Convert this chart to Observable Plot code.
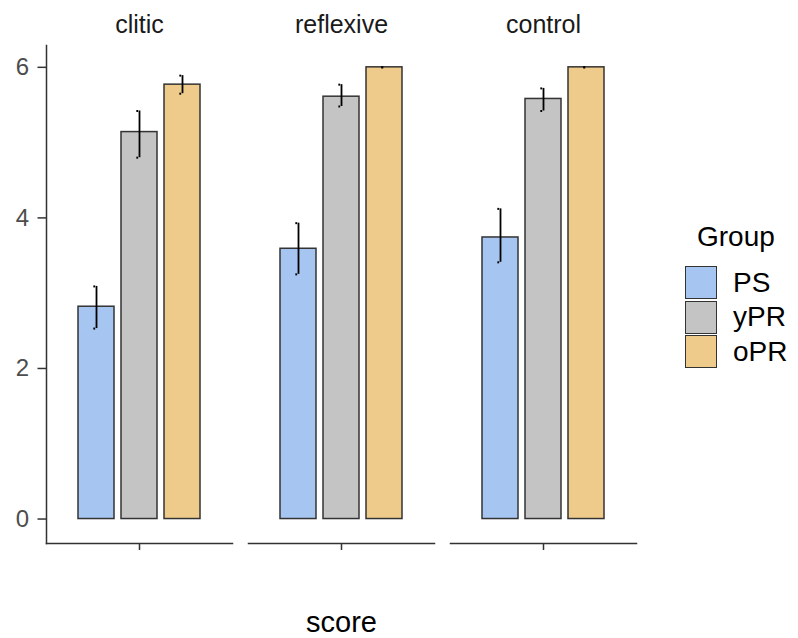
<!DOCTYPE html>
<html>
<head>
<meta charset="utf-8">
<script src="https://cdn.jsdelivr.net/npm/d3@7"></script>
<script src="https://cdn.jsdelivr.net/npm/@observablehq/plot@0.6"></script>
<style>
  html, body { margin: 0; padding: 0; background: #fff; }
  #wrap { position: relative; width: 798px; height: 638px; font-family: "Liberation Sans", Arial, sans-serif; }
  #legend { position: absolute; left: 0; top: 0; }
  .lg-title { position: absolute; left: 697px; top: 223px; font-size: 28px; line-height: 1; color: #000; white-space: nowrap; }
  .lg-key { position: absolute; left: 685px; width: 30px; height: 31px; border: 1.5px solid #333; }
  .lg-lab { position: absolute; left: 733px; font-size: 28px; line-height: 1; color: #000; white-space: nowrap; }
</style>
</head>
<body>
<div id="wrap">
  <div id="chart"></div>
  <div id="legend"></div>
</div>
<script>
// ---- data ----
const facets = ["clitic", "reflexive", "control"];
const groups = ["PS", "yPR", "oPR"];
const colors = ["#a6c5f0", "#c4c4c4", "#eecb8b"];
const yTicks = [0, 2, 4, 6];

// mean score per facet (clitic, reflexive, control)
const meanPS  = [2.82, 3.59, 3.74];
const meanYPR = [5.14, 5.61, 5.58];
const meanOPR = [5.77, 6.00, 6.00];
// error bar bounds
const loPS  = [2.53, 3.25, 3.41];
const hiPS  = [3.09, 3.93, 4.12];
const loYPR = [4.80, 5.48, 5.42];
const hiYPR = [5.42, 5.77, 5.72];
const loOPR = [5.65, 6.00, 6.00];
const hiOPR = [5.89, 6.00, 6.00];

const xTitle = "score";
const legendTitle = "Group";

// ---- build table ----
const means = [meanPS, meanYPR, meanOPR];
const los = [loPS, loYPR, loOPR];
const his = [hiPS, hiYPR, hiOPR];
const data = [];
facets.forEach((f, fi) => {
  groups.forEach((g, gi) => {
    data.push({facet: f, group: g, mean: means[gi][fi], lo: los[gi][fi], hi: his[gi][fi]});
  });
});

const xPadInner = 0.17, xPadOuter = 0.70;
const facetWidth = (798 - 46 - 162) / (3 - 0.08);
const xStep = facetWidth / (3 - xPadInner + 2 * xPadOuter);
const bw = xStep * (1 - xPadInner);
const capL = bw / 2 - 4.5, capR = bw / 2 - 1;

const chart = Plot.plot({
  width: 798,
  height: 638,
  marginLeft: 46,
  marginRight: 162,
  marginTop: 45,
  marginBottom: 95,
  style: {fontFamily: "Liberation Sans, Arial, sans-serif", background: "#fff"},
  fx: {domain: facets, paddingInner: 0.08, paddingOuter: 0, axis: null, label: null},
  x: {domain: groups, paddingInner: xPadInner, paddingOuter: xPadOuter, axis: null, label: null},
  y: {domain: [-0.325, 6.29], axis: null, label: null},
  color: {domain: groups, range: colors},
  marks: [
    Plot.barY(data, {fx: "facet", x: "group", y1: () => 0, y2: "mean", fill: "group", stroke: "#333", strokeWidth: 1.5}),
    Plot.ruleX(data, {fx: "facet", x: "group", y1: "lo", y2: "hi", stroke: "#000", strokeWidth: 1.8}),
    Plot.tickY(data, {fx: "facet", x: "group", y: "hi", stroke: "#000", strokeWidth: 2, insetLeft: capL, insetRight: capR}),
    Plot.tickY(data, {fx: "facet", x: "group", y: "lo", stroke: "#000", strokeWidth: 2, insetLeft: capL, insetRight: capR}),
    Plot.frame({anchor: "bottom", stroke: "#333", strokeWidth: 1.5}),
    Plot.frame({anchor: "left", stroke: "#333", strokeWidth: 1.5, fx: [facets[0]]}),
    Plot.axisY({ticks: yTicks, tickFormat: "d", tickSize: 8.5, tickPadding: 9, fontSize: 24, color: "#4d4d4d", stroke: "#333", strokeWidth: 1.5, label: null}),
    Plot.axisFx({anchor: "bottom", tickSize: 7, tickFormat: () => "", stroke: "#333", strokeWidth: 1.5, label: null}),
    Plot.text(facets, {fx: d => d, text: d => d, frameAnchor: "top", lineAnchor: "middle", dy: -21, fontSize: 25, fill: "#1a1a1a"}),
    Plot.text([xTitle], {fx: () => facets[1], text: d => d, frameAnchor: "bottom", lineAnchor: "middle", dy: 79, fontSize: 29, fill: "#000"})
  ]
});
document.getElementById("chart").appendChild(chart);

// ---- legend ----
const legend = document.getElementById("legend");
const t = document.createElement("div");
t.className = "lg-title";
t.textContent = legendTitle;
legend.appendChild(t);
groups.forEach((g, i) => {
  const top = 266 + i * 34.5;
  const k = document.createElement("div");
  k.className = "lg-key";
  k.style.top = top + "px";
  k.style.background = colors[i];
  legend.appendChild(k);
  const l = document.createElement("div");
  l.className = "lg-lab";
  l.style.top = (top + 2.5) + "px";
  l.textContent = g;
  legend.appendChild(l);
});
</script>
</body>
</html>
